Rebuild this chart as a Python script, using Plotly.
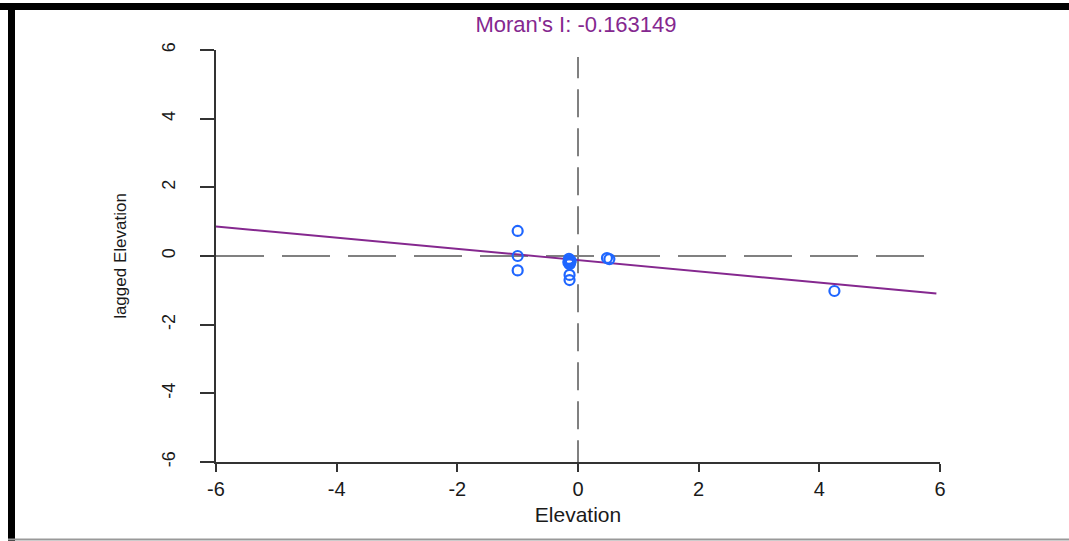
import plotly.graph_objects as go

# data
elev = [-1.0, -1.0, -1.0, -0.15, -0.14, -0.15, -0.13, -0.14, -0.16, -0.12, -0.14, -0.14, 0.48, 0.52, 4.25]
lagged = [0.73, 0.0, -0.42, -0.08, -0.12, -0.16, -0.20, -0.24, -0.18, -0.14, -0.55, -0.70, -0.06, -0.09, -1.02]
slope = -0.163149
intercept = -0.12
x_ticks = [-6, -4, -2, 0, 2, 4, 6]
y_ticks = [-6, -4, -2, 0, 2, 4, 6]

purple = "#85288f"
blue = "#1f66ff"
axis_col = "#333333"
text_col = "#1a1a1a"
fontfam = "Liberation Sans, Arial, sans-serif"

fig = go.Figure()

xl = [x_ticks[0], x_ticks[-1] - 0.06]
fig.add_trace(go.Scatter(x=xl, y=[intercept + slope * v for v in xl], mode="lines",
                         line=dict(color=purple, width=2), hoverinfo="skip", showlegend=False))
fig.add_trace(go.Scatter(x=elev, y=lagged, mode="markers",
                         marker=dict(symbol="circle-open", size=10, color=blue, line=dict(width=2.2, color=blue)),
                         showlegend=False))

shapes = [
    # dashed reference lines
    dict(type="line", xref="x", yref="paper", x0=0, x1=0, y0=-0.015, y1=(462 - 57) / 412,
         line=dict(color="#808080", width=2, dash="28px,11px"), layer="below"),
    dict(type="line", xref="paper", yref="y", x0=0, x1=0.985, y0=0, y1=0,
         line=dict(color="#808080", width=2, dash="48px,18px"), layer="below"),
    # picture frame
    dict(type="rect", xref="paper", yref="paper", x0=-0.3, x1=1.2, y0=(462 - 3) / 412, y1=(462 - 10) / 412,
         fillcolor="black", line=dict(width=0)),
    dict(type="rect", xref="paper", yref="paper", x0=(8 - 216) / 724, x1=(15 - 216) / 724,
         y0=(462 - 3) / 412, y1=(462 - 541) / 412, fillcolor="black", line=dict(width=0)),
    dict(type="line", xref="paper", yref="paper", x0=(8 - 216) / 724, x1=1.2,
         y0=(462 - 539.5) / 412, y1=(462 - 539.5) / 412, line=dict(color="#999999", width=2)),
]

fig.update_layout(
    width=1069, height=541,
    margin=dict(l=216, r=129, t=50, b=79),
    paper_bgcolor="white", plot_bgcolor="white",
    shapes=shapes,
    title=dict(text="Moran's I: -0.163149", x=576 / 1069, xanchor="center", y=1 - 24 / 541, yanchor="middle",
               font=dict(family=fontfam, size=22, color=purple)),
    font=dict(family=fontfam, color=text_col),
    xaxis=dict(range=[-6, 6], tickvals=x_ticks, ticktext=[str(v) for v in x_ticks],
               showgrid=False, zeroline=False, showline=True, linecolor=axis_col, linewidth=2,
               ticks="outside", ticklen=8, tickwidth=2, tickcolor=axis_col,
               tickfont=dict(size=20, color=text_col),
               title=dict(text="Elevation", font=dict(size=21, color=text_col), standoff=8)),
    yaxis=dict(range=[-6, 6], tickvals=y_ticks, ticktext=[str(v) for v in y_ticks],
               showgrid=False, zeroline=False, showline=True, linecolor=axis_col, linewidth=2,
               ticks="outside", ticklen=14, tickwidth=2, tickcolor=axis_col, tickangle=-90,
               ticklabelstandoff=18,
               tickfont=dict(size=18, color=text_col),
               title=dict(text="lagged Elevation", font=dict(size=17, color=text_col), standoff=28)),
)

fig.write_html("out.html", config={"displayModeBar": False},
               post_script="document.body.style.margin='0px';document.body.style.overflow='hidden';")
